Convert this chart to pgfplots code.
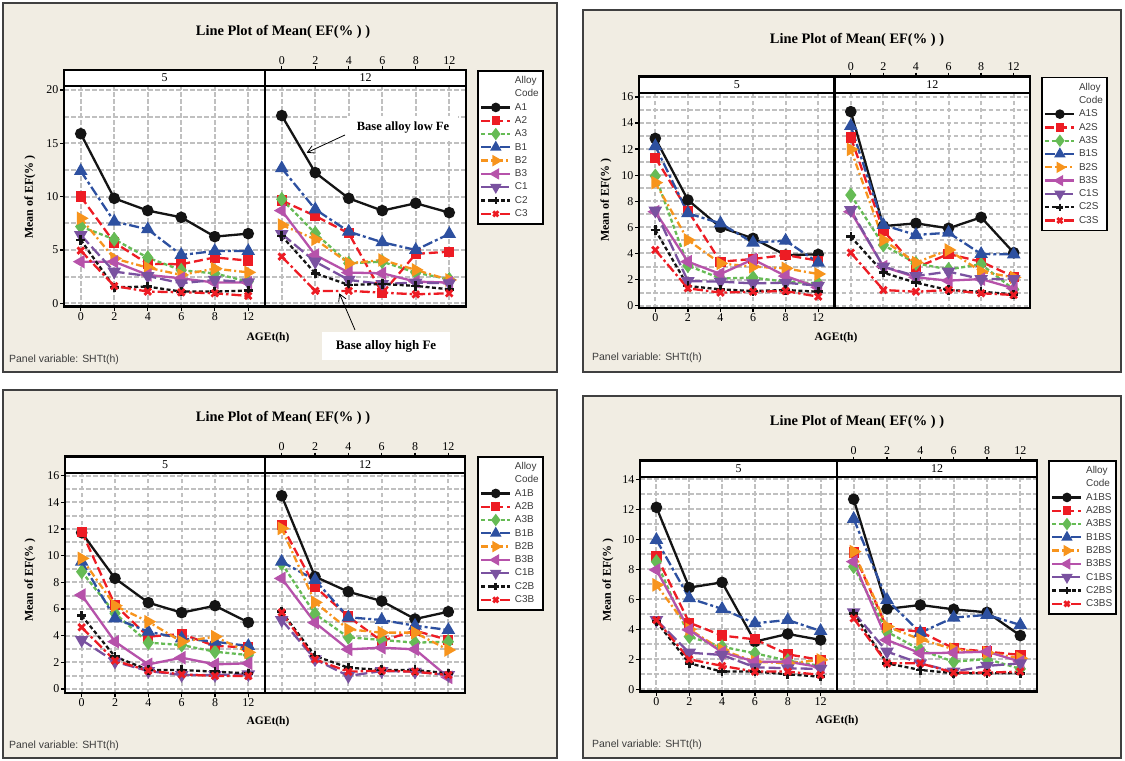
\documentclass[border=0pt]{standalone}
\usepackage{fontspec}
\setmainfont{Liberation Serif}
\setsansfont{Liberation Sans}
\usepackage{pgfplots}
\pgfplotsset{compat=1.18}
\usetikzlibrary{arrows.meta}

\definecolor{mred}{RGB}{237,28,36}
\definecolor{mgreen}{RGB}{102,187,85}
\definecolor{mblue}{RGB}{45,80,160}
\definecolor{morange}{RGB}{247,148,29}
\definecolor{mmag}{RGB}{182,82,170}
\definecolor{mpurp}{RGB}{122,82,160}
\definecolor{mblack}{RGB}{20,20,20}
\definecolor{gridc}{RGB}{192,192,192}
\definecolor{beige}{RGB}{241,237,227}
\definecolor{legtext}{RGB}{60,60,60}

\newcommand{\ser}[7]{\addplot[#1] coordinates {(0,#2) (1,#3) (2,#4) (3,#5) (4,#6) (5,#7)};}
\newcommand{\strip}[4]{\draw[line width=2.2bp, fill=white] (axis cs:-0.5,#1) rectangle (axis cs:5.5,#2);
  \node[font=\fontsize{12}{14}\selectfont] at (axis cs:2.5,#3) {#4};}

\pgfplotsset{
 sA1/.style={mblack, solid, line width=2.3bp, mark=*, mark size=4.6bp, mark options={solid}},
 sA2/.style={mred, line width=2.3bp, dash pattern=on 9bp off 4bp, mark=square*, mark size=4bp, mark options={solid}},
 sA3/.style={mgreen, line width=2.3bp, dash pattern=on 4bp off 2.5bp, mark=diamond*, mark size=5.6bp, mark options={solid}},
 sB1/.style={mblue, line width=2.3bp, dash pattern=on 10bp off 3bp on 3bp off 3bp, mark=triangle*, mark size=5.6bp, mark options={solid}},
 sB2/.style={morange, line width=2.3bp, dash pattern=on 7bp off 3bp on 2bp off 3bp, mark=triangle*, mark size=5.6bp, mark options={solid, rotate=-90}},
 sB3/.style={mmag, solid, line width=2.3bp, mark=triangle*, mark size=5.6bp, mark options={solid, rotate=90}},
 sC1/.style={mpurp, line width=2.3bp, dash pattern=on 12bp off 4bp, mark=triangle*, mark size=5.6bp, mark options={solid, rotate=180}},
 sC2/.style={mblack, line width=2.3bp, dash pattern=on 4bp off 2.5bp, mark=+, mark size=4.6bp, mark options={solid, line width=2.6bp}},
 sC3/.style={mred, line width=2.3bp, dash pattern=on 10bp off 3bp on 2.5bp off 3bp, mark=x, mark size=4.6bp, mark options={solid, line width=2.8bp}},
 base/.style={
  scale only axis, clip=false, anchor=south west,
  xmin=-0.5, xmax=5.5,
  xtick={0,1,2,3,4,5}, xticklabels={0,2,4,6,8,12},
  axis background/.style={fill=white},
  axis line style={line width=2.4bp, black},
  major tick length=4bp, minor tick length=0pt,
  tick align=outside,
  tick style={line width=1.3bp, black},
  xmajorgrids, ymajorgrids, yminorgrids, minor y tick num=1,
  grid style={gridc, line width=2bp, dash pattern=on 4.5bp off 2.5bp},
  minor grid style={gridc, line width=2bp, dash pattern=on 4.5bp off 2.5bp},
  ytick pos=left,
  tick label style={font=\fontsize{12}{14}\selectfont},
  xticklabel style={inner sep=1.5bp},
  yticklabel style={inner sep=1.5bp},
  /pgf/number format/assume math mode=true,
 },
 leftax/.style={base, xtick pos=left, xticklabel pos=left},
 rightax/.style={base, xtick pos=right, xticklabel pos=right, yticklabels={}, ymajorticks=false,
  legend cell align=left,
  legend image code/.code={\draw[mark repeat=2,mark phase=2, every mark/.append style={scale=0.78}] plot coordinates {(0bp,0bp) (14.5bp,0bp) (29bp,0bp)};},
  legend style={draw=black, line width=1.8bp, fill=white, text=legtext,
   font=\fontsize{10}{12}\sffamily, inner xsep=2bp, inner ysep=3.3bp, row sep=0pt,
   /tikz/every odd column/.append style={column sep=1.5bp},
   nodes={inner xsep=2bp, inner ysep=1.4bp, text height=8bp, text depth=2.5bp}},
 },
}

\begin{document}
\begin{tikzpicture}[x=1bp,y=1bp]
\fill[white] (0,0) rectangle (1125,761);
\useasboundingbox (0,0) rectangle (1125,761);
% panels
\filldraw[fill=beige, draw=black!75, line width=1.5bp] (3,758) rectangle (557,389);
\filldraw[fill=beige, draw=black!75, line width=1.5bp] (583,751) rectangle (1121,389);
\filldraw[fill=beige, draw=black!75, line width=1.5bp] (3,371) rectangle (557,3);
\filldraw[fill=beige, draw=black!75, line width=1.5bp] (583,365) rectangle (1121,3);

% ================= TOP LEFT =================
\node[font=\fontsize{14.5}{16}\selectfont\bfseries] at (283,729) {Line Plot of Mean( EF(\% ) )};
\node[font=\fontsize{12}{14}\selectfont\bfseries, rotate=90] at (30,564) {Mean of EF(\% )};
\node[font=\fontsize{11.5}{13}\selectfont\bfseries] at (268,423) {AGEt(h)};
\node[font=\fontsize{10.5}{12}\sffamily, anchor=west, text=legtext, inner sep=0] at (9,401) {Panel variable: SHTt(h)};

\begin{axis}[leftax, at={(64bp,454.3bp)}, width=201bp, height=236.7bp, ymin=-0.319, ymax=21.875, ytick={0,5,10,15,20}]
\ser{sA1}{15.9}{9.84}{8.69}{8.06}{6.25}{6.53}
\ser{sA2}{10.0}{5.7}{3.7}{3.66}{4.3}{4.0}
\ser{sA3}{7.19}{6.0}{4.28}{3.1}{2.8}{2.03}
\ser{sB1}{12.4}{7.66}{6.94}{4.53}{4.9}{4.9}
\ser{sB2}{7.97}{4.2}{3.34}{2.66}{3.25}{2.9}
\ser{sB3}{3.9}{3.9}{2.66}{2.34}{1.94}{1.94}
\ser{sC1}{6.4}{2.97}{2.56}{1.88}{2.19}{1.97}
\ser{sC2}{5.94}{1.5}{1.56}{1.1}{1.1}{1.19}
\ser{sC3}{4.94}{1.62}{1.1}{1.03}{0.94}{0.69}
\strip{20.375}{21.875}{21.125}{5}
\end{axis}
\begin{axis}[rightax, at={(265bp,454.3bp)}, width=201bp, height=236.7bp, ymin=-0.319, ymax=21.875, ytick={0,5,10,15,20},
  legend style={at={(1.056,1)}, anchor=north west}]
\addlegendimage{empty legend}\addlegendentry{Alloy}
\addlegendimage{empty legend}\addlegendentry{Code}
\ser{sA1}{17.6}{12.25}{9.84}{8.69}{9.38}{8.5}\addlegendentry{A1}
\ser{sA2}{9.63}{8.19}{6.56}{0.94}{4.63}{4.84}\addlegendentry{A2}
\ser{sA3}{9.75}{6.56}{3.75}{3.9}{2.88}{2.25}\addlegendentry{A3}
\ser{sB1}{12.66}{8.81}{6.72}{5.72}{5.0}{6.5}\addlegendentry{B1}
\ser{sB2}{7.34}{6.0}{3.75}{4.06}{3.13}{2.19}\addlegendentry{B2}
\ser{sB3}{8.69}{4.53}{2.88}{2.81}{2.03}{1.94}\addlegendentry{B3}
\ser{sC1}{6.5}{3.9}{2.19}{1.81}{1.94}{1.88}\addlegendentry{C1}
\ser{sC2}{6.31}{2.81}{1.72}{1.81}{1.63}{1.31}\addlegendentry{C2}
\ser{sC3}{4.38}{1.16}{1.16}{1.0}{0.84}{0.94}\addlegendentry{C3}
\strip{20.375}{21.875}{21.125}{12}
\end{axis}
\node[fill=white, inner xsep=9bp, inner ysep=6bp, font=\fontsize{12.6}{14}\selectfont\bfseries] at (403,633) {Base alloy low Fe};
\draw[line width=0.8bp, -{Straight Barb[length=7bp,width=8bp]}] (345,626) -- (306.7,608.3);
\node[fill=white, inner xsep=14bp, inner ysep=8bp, font=\fontsize{13}{15}\selectfont\bfseries] at (386,415) {Base alloy high Fe};
\draw[line width=0.8bp, -{Straight Barb[length=7bp,width=8bp]}] (355,431) -- (339.3,467.7);

% ================= TOP RIGHT =================
\node[font=\fontsize{14.5}{16}\selectfont\bfseries] at (857,721) {Line Plot of Mean( EF(\% ) )};
\node[font=\fontsize{12}{14}\selectfont\bfseries, rotate=90] at (606,561) {Mean of EF(\% )};
\node[font=\fontsize{11.5}{13}\selectfont\bfseries] at (836,423) {AGEt(h)};
\node[font=\fontsize{10.5}{12}\sffamily, anchor=west, text=legtext, inner sep=0] at (592,403) {Panel variable: SHTt(h)};

\begin{axis}[leftax, at={(639bp,452.7bp)}, width=195.5bp, height=231.6bp, ymin=-0.2, ymax=17.55, ytick={0,2,...,16}]
\ser{sA1}{12.82}{8.10}{6.0}{5.16}{3.88}{3.93}
\ser{sA2}{11.34}{7.28}{3.37}{3.58}{3.88}{3.45}
\ser{sA3}{9.94}{3.07}{2.09}{2.15}{1.84}{1.71}
\ser{sB1}{12.23}{7.08}{6.31}{4.83}{4.98}{3.30}
\ser{sB2}{9.43}{5.03}{3.24}{2.99}{2.86}{2.43}
\ser{sB3}{7.2}{3.37}{2.43}{3.55}{2.27}{1.40}
\ser{sC1}{7.28}{1.89}{1.84}{1.71}{1.76}{1.53}
\ser{sC2}{5.8}{1.51}{1.25}{1.12}{1.2}{1.07}
\ser{sC3}{4.27}{1.33}{1.0}{1.07}{1.12}{0.69}
\strip{16.28}{17.55}{16.915}{5}
\end{axis}
\begin{axis}[rightax, at={(834.5bp,452.7bp)}, width=195.5bp, height=231.6bp, ymin=-0.2, ymax=17.55, ytick={0,2,...,16},
  legend style={at={(1.058,1)}, anchor=north west}]
\addlegendimage{empty legend}\addlegendentry{Alloy}
\addlegendimage{empty legend}\addlegendentry{Code}
\ser{sA1}{14.87}{6.1}{6.31}{5.93}{6.77}{4.06}\addlegendentry{A1S}
\ser{sA2}{12.9}{5.75}{2.91}{3.96}{3.37}{2.22}\addlegendentry{A2S}
\ser{sA3}{8.48}{4.65}{3.24}{2.78}{3.17}{1.25}\addlegendentry{A3S}
\ser{sB1}{13.77}{6.18}{5.42}{5.59}{3.96}{3.93}\addlegendentry{B1S}
\ser{sB2}{11.98}{5.03}{3.30}{4.27}{2.61}{2.17}\addlegendentry{B2S}
\ser{sB3}{7.2}{2.99}{2.17}{1.92}{2.04}{1.33}\addlegendentry{B3S}
\ser{sC1}{7.33}{2.99}{2.27}{2.61}{2.04}{2.04}\addlegendentry{C1S}
\ser{sC2}{5.29}{2.53}{1.76}{1.2}{1.07}{0.87}\addlegendentry{C2S}
\ser{sC3}{4.06}{1.2}{1.07}{1.2}{0.95}{0.82}\addlegendentry{C3S}
\strip{16.28}{17.55}{16.915}{12}
\end{axis}

% ================= BOTTOM LEFT =================
\node[font=\fontsize{14.5}{16}\selectfont\bfseries] at (283,343) {Line Plot of Mean( EF(\% ) )};
\node[font=\fontsize{12}{14}\selectfont\bfseries, rotate=90] at (30,181) {Mean of EF(\% )};
\node[font=\fontsize{11.5}{13}\selectfont\bfseries] at (268,39) {AGEt(h)};
\node[font=\fontsize{10.5}{12}\sffamily, anchor=west, text=legtext, inner sep=0] at (9,15) {Panel variable: SHTt(h)};

\begin{axis}[leftax, at={(65bp,67.7bp)}, width=200bp, height=236.6bp, ymin=-0.32, ymax=17.43, ytick={0,2,...,16}]
\ser{sA1}{11.73}{8.3}{6.48}{5.73}{6.25}{5.0}
\ser{sA2}{11.8}{6.3}{3.93}{4.13}{3.23}{3.13}
\ser{sA3}{8.8}{5.68}{3.48}{3.3}{2.8}{2.55}
\ser{sB1}{9.55}{5.3}{4.3}{3.8}{3.55}{3.23}
\ser{sB2}{9.8}{6.25}{5.05}{3.55}{3.93}{2.75}
\ser{sB3}{7.05}{3.55}{1.85}{2.35}{1.85}{1.93}
\ser{sC1}{3.68}{2.05}{1.35}{1.05}{1.05}{1.1}
\ser{sC2}{5.5}{2.43}{1.43}{1.43}{1.3}{1.18}
\ser{sC3}{4.63}{2.13}{1.38}{1.1}{0.98}{0.98}
\strip{16.18}{17.43}{16.805}{5}
\end{axis}
\begin{axis}[rightax, at={(265bp,67.7bp)}, width=200bp, height=236.6bp, ymin=-0.32, ymax=17.43, ytick={0,2,...,16},
  legend style={at={(1.061,1.003)}, anchor=north west}]
\addlegendimage{empty legend}\addlegendentry{Alloy}
\addlegendimage{empty legend}\addlegendentry{Code}
\ser{sA1}{14.5}{8.43}{7.3}{6.6}{5.25}{5.8}\addlegendentry{A1B}
\ser{sA2}{12.3}{7.68}{5.43}{3.6}{4.38}{3.68}\addlegendentry{A2B}
\ser{sA3}{9.43}{5.63}{3.88}{3.68}{3.48}{3.55}\addlegendentry{A3B}
\ser{sB1}{9.55}{8.18}{5.38}{5.18}{4.75}{4.43}\addlegendentry{B1B}
\ser{sB2}{12.05}{6.5}{4.48}{4.23}{4.23}{2.93}\addlegendentry{B2B}
\ser{sB3}{8.3}{4.98}{2.98}{3.1}{2.98}{0.88}\addlegendentry{B3B}
\ser{sC1}{5.18}{2.23}{0.98}{1.35}{1.3}{1.05}\addlegendentry{C1B}
\ser{sC2}{5.8}{2.48}{1.6}{1.43}{1.43}{1.18}\addlegendentry{C2B}
\ser{sC3}{5.75}{2.23}{1.3}{1.38}{1.3}{1.05}\addlegendentry{C3B}
\strip{16.18}{17.43}{16.805}{12}
\end{axis}

% ================= BOTTOM RIGHT =================
\node[font=\fontsize{14.5}{16}\selectfont\bfseries] at (857,339) {Line Plot of Mean( EF(\% ) )};
\node[font=\fontsize{12}{14}\selectfont\bfseries, rotate=90] at (608,181) {Mean of EF(\% )};
\node[font=\fontsize{11.5}{13}\selectfont\bfseries] at (837,40) {AGEt(h)};
\node[font=\fontsize{10.5}{12}\sffamily, anchor=west, text=legtext, inner sep=0] at (592,16) {Panel variable: SHTt(h)};

\begin{axis}[leftax, at={(640bp,69.3bp)}, width=197bp, height=231bp, ymin=-0.16, ymax=15.24, ytick={0,2,...,14}]
\ser{sA1}{12.13}{6.78}{7.13}{3.18}{3.69}{3.29}
\ser{sA2}{8.89}{4.44}{3.58}{3.33}{2.33}{1.96}
\ser{sA3}{8.51}{3.51}{2.84}{2.4}{1.91}{1.56}
\ser{sB1}{9.96}{6.07}{5.36}{4.4}{4.62}{3.89}
\ser{sB2}{6.96}{4.0}{2.62}{1.84}{1.73}{1.96}
\ser{sB3}{7.96}{3.96}{2.47}{1.84}{1.84}{1.47}
\ser{sC1}{4.62}{2.44}{2.29}{1.47}{1.4}{1.36}
\ser{sC2}{4.51}{1.73}{1.18}{1.18}{1.0}{0.84}
\ser{sC3}{4.62}{2.0}{1.56}{1.18}{1.18}{0.96}
\strip{14.17}{15.24}{14.705}{5}
\end{axis}
\begin{axis}[rightax, at={(837bp,69.3bp)}, width=200bp, height=231bp, ymin=-0.16, ymax=15.24, ytick={0,2,...,14},
  legend style={at={(1.057,1.003)}, anchor=north west}]
\addlegendimage{empty legend}\addlegendentry{Alloy}
\addlegendimage{empty legend}\addlegendentry{Code}
\ser{sA1}{12.67}{5.36}{5.62}{5.33}{5.13}{3.58}\addlegendentry{A1BS}
\ser{sA2}{9.11}{4.07}{3.84}{2.73}{2.51}{2.29}\addlegendentry{A2BS}
\ser{sA3}{8.18}{3.84}{2.62}{1.84}{2.02}{1.36}\addlegendentry{A3BS}
\ser{sB1}{11.36}{5.96}{3.78}{4.78}{4.96}{4.29}\addlegendentry{B1BS}
\ser{sB2}{9.18}{4.18}{3.33}{2.67}{2.44}{2.07}\addlegendentry{B2BS}
\ser{sB3}{8.51}{3.29}{2.4}{2.44}{2.51}{1.84}\addlegendentry{B3BS}
\ser{sC1}{5.13}{2.51}{1.73}{1.18}{1.56}{1.73}\addlegendentry{C1BS}
\ser{sC2}{5.07}{1.73}{1.29}{1.07}{1.07}{1.07}\addlegendentry{C2BS}
\ser{sC3}{4.73}{1.73}{1.73}{1.11}{1.11}{1.18}\addlegendentry{C3BS}
\strip{14.17}{15.24}{14.705}{12}
\end{axis}
\end{tikzpicture}
\end{document}
